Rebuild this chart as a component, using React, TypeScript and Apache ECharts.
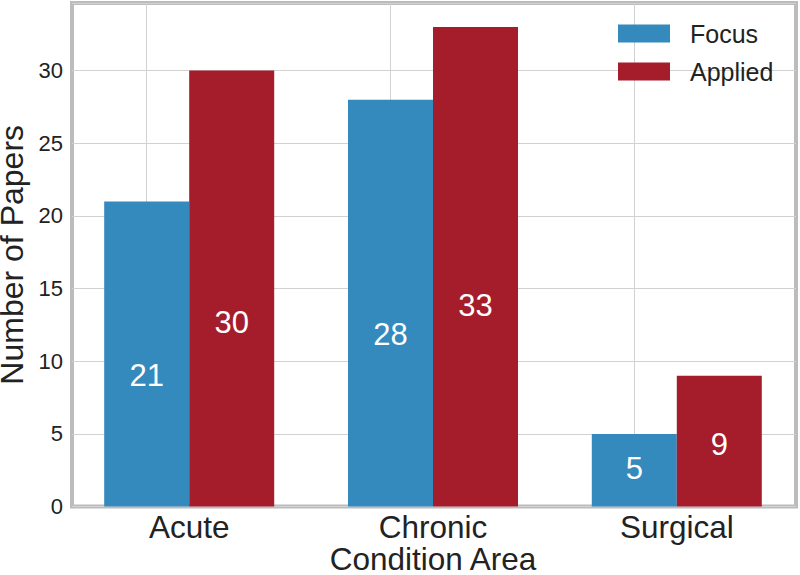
import React, { useEffect, useRef } from "react";
import * as echarts from "echarts";

const categories = ["Acute", "Chronic", "Surgical"];
const seriesNames = ["Focus", "Applied"];
const focusValues = [21, 28, 5];
const appliedValues = [30, 33, 9];
const yMin = 0;
const yMax = 34.65;
const yInterval = 5;

const FONT = "'Liberation Sans', Arial, Helvetica, sans-serif";
const BLUE = "#3489BD";
const RED = "#A51C2A";
const TEXT = "#222222";
const GRIDLINE = "#d2d2d2";
const FRAME = "#bcbcbc";

export default function App() {
  const ref = useRef<HTMLDivElement>(null);

  useEffect(() => {
    if (!ref.current) return;
    const chart = echarts.init(ref.current, undefined, { renderer: "svg" });

    const barLabel = {
      show: true,
      position: ["50%", "60%"],
      offset: [0, -9.5],
      align: "center",
      verticalAlign: "middle",
      color: "#ffffff",
      fontSize: 31,
      fontFamily: FONT,
    };

    chart.setOption({
      animation: false,
      backgroundColor: "#ffffff",
      textStyle: { fontFamily: FONT },
      grid: [
        {
          left: 67.3,
          right: 1.3,
          top: 3,
          bottom: 68.4,
          containLabel: false,
          outerBoundsMode: "none",
        },
        {
          left: 72,
          right: 4,
          top: 3,
          bottom: 68.4,
          show: true,
          borderColor: FRAME,
          borderWidth: 4,
          backgroundColor: "transparent",
          outerBoundsMode: "none",
        },
      ],
      legend: {
        data: seriesNames,
        orient: "vertical",
        left: 613,
        top: 16,
        itemWidth: 52,
        itemHeight: 18,
        itemGap: 13,
        icon: "rect",
        textStyle: {
          fontSize: 25,
          color: TEXT,
          fontFamily: FONT,
          padding: [0, 0, 0, 15],
        },
      },
      xAxis: [
        {
          type: "category",
          gridIndex: 0,
          data: categories,
          axisLine: { show: false },
          axisTick: { show: false },
          splitLine: { show: false },
          axisLabel: { fontSize: 31.5, color: TEXT, margin: 4, fontFamily: FONT },
          name: "Condition Area",
          nameLocation: "middle",
          nameGap: 36,
          nameMoveOverlap: false,
          nameTextStyle: { fontSize: 31.5, color: TEXT, fontFamily: FONT },
        },
        {
          type: "value",
          gridIndex: 1,
          min: 0,
          max: 1,
          show: false,
        },
      ],
      yAxis: [
        {
          type: "value",
          gridIndex: 0,
          min: yMin,
          max: yMax,
          show: false,
        },
        {
          type: "value",
          gridIndex: 1,
          min: yMin,
          max: yMax,
          interval: yInterval,
          axisLine: { show: false },
          axisTick: { show: false },
          axisLabel: {
            fontSize: 22,
            color: TEXT,
            margin: 9,
            showMaxLabel: false,
            fontFamily: FONT,
          },
          splitLine: { show: true, lineStyle: { color: GRIDLINE, width: 1 } },
          name: "Number of Papers",
          nameLocation: "middle",
          nameGap: 44,
          nameMoveOverlap: false,
          nameTextStyle: { fontSize: 32, color: TEXT, fontFamily: FONT },
        },
      ],
      series: [
        {
          name: seriesNames[0],
          type: "bar",
          xAxisIndex: 0,
          yAxisIndex: 0,
          data: focusValues,
          barWidth: 85,
          barGap: "0%",
          itemStyle: { color: BLUE },
          label: barLabel,
          markLine: {
            silent: true,
            z: 1,
            symbol: ["none", "none"],
            label: { show: false },
            lineStyle: { color: GRIDLINE, type: "solid", width: 1 },
            data: categories.map((c) => ({ xAxis: c })),
          },
        },
        {
          name: seriesNames[1],
          type: "bar",
          xAxisIndex: 0,
          yAxisIndex: 0,
          data: appliedValues,
          barWidth: 85,
          barGap: "0%",
          itemStyle: { color: RED },
          label: barLabel,
        },
      ],
    });

    return () => chart.dispose();
  }, []);

  return (
    <div
      ref={ref}
      style={{ position: "absolute", left: 0, top: 0, width: 800, height: 575 }}
    />
  );
}
